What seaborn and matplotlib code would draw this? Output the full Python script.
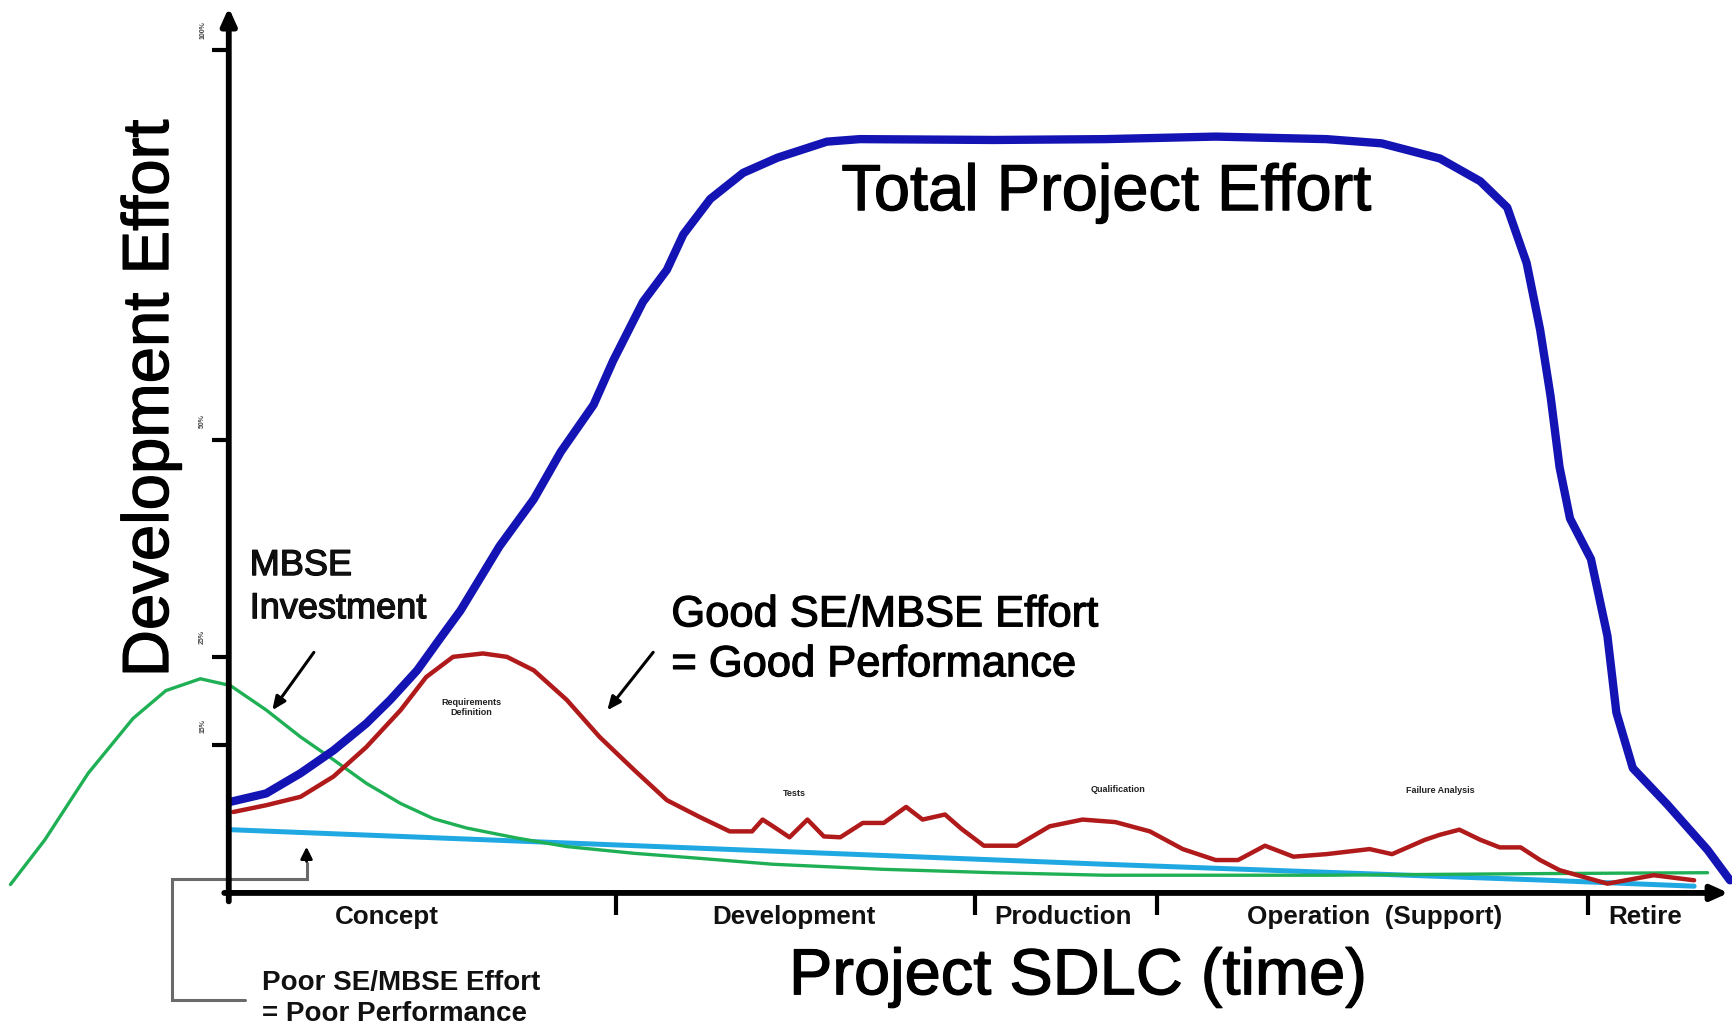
import numpy as np
import pandas as pd
import matplotlib
matplotlib.use("Agg")
import matplotlib.pyplot as plt
import matplotlib.patheffects as pe
import seaborn as sns

# ---------------- data (time %, effort %) ----------------
total_x = [0.1, 2.5, 4.8, 7.0, 9.2, 10.8, 12.6, 14.1, 15.5, 18.1, 20.4, 22.2, 24.4, 25.7,
           27.7, 29.3, 30.4, 32.2, 34.4, 36.7, 40.0, 42.2, 51.2, 58.6, 66.0, 73.4, 77.1,
           81.0, 83.7, 85.5, 86.8, 87.7, 88.4, 89.0, 89.7, 91.1, 92.2, 92.8, 93.9, 96.2,
           98.9, 100.4]
total_y = [10.8, 11.8, 14.2, 16.9, 20.1, 22.9, 26.4, 30.1, 33.5, 41.1, 46.7, 52.3, 57.9, 63.1,
           70.1, 73.9, 78.1, 82.3, 85.4, 87.2, 89.1, 89.4, 89.3, 89.4, 89.7, 89.4, 88.9,
           87.1, 84.4, 81.3, 74.7, 66.8, 58.9, 50.5, 44.4, 39.6, 30.5, 21.4, 14.8, 10.5,
           5.1, 1.5]

good_x = [0.3, 2.5, 4.8, 7.0, 9.2, 11.5, 13.2, 15.0, 17.0, 18.6, 20.4, 22.6, 24.8, 27.1,
          29.3, 31.5, 33.5, 35.0, 35.7, 36.4, 37.5, 38.7, 39.8, 40.9, 42.4, 43.8, 45.3,
          46.4, 47.9, 49.0, 50.5, 52.7, 54.9, 57.1, 59.3, 61.6, 63.8, 66.0, 67.5, 69.3,
          71.2, 73.4, 76.3, 77.8, 80.0, 81.0, 82.3, 83.7, 85.0, 86.4, 87.7, 89.0, 92.2,
          95.3, 98.0]
good_y = [9.6, 10.4, 11.4, 13.8, 17.3, 21.7, 25.6, 28.0, 28.4, 28.0, 26.4, 22.9, 18.5, 14.6,
          11.0, 9.0, 7.3, 7.3, 8.7, 7.9, 6.6, 8.7, 6.7, 6.6, 8.3, 8.3, 10.2,
          8.7, 9.3, 7.6, 5.6, 5.6, 7.9, 8.7, 8.4, 7.3, 5.2, 3.9, 3.9, 5.6,
          4.3, 4.6, 5.2, 4.6, 6.3, 6.9, 7.5, 6.3, 5.4, 5.4, 3.9, 2.7, 1.1,
          2.1, 1.5]

poor_x = [-14.6, -12.3, -9.4, -6.4, -4.2, -1.9, 0.1, 2.5, 4.8, 7.0, 9.2, 11.5, 13.7, 15.9,
          19.3, 22.6, 27.1, 31.5, 36.4, 43.8, 51.2, 58.6, 73.4, 88.2, 98.9]
poor_y = [1.0, 6.3, 14.2, 20.7, 24.0, 25.4, 24.6, 21.7, 18.5, 15.8, 13.0, 10.6, 8.8, 7.7,
          6.5, 5.5, 4.7, 4.1, 3.4, 2.8, 2.4, 2.1, 2.1, 2.3, 2.4]

base_x = [0.1, 31.5, 58.6, 88.2, 98.0]
base_y = [7.5, 5.3, 3.4, 1.5, 0.8]

phases = ["Concept", "Development", "Production", "Operation  (Support)", "Retire"]
phase_centers = [10.6, 37.8, 55.8, 76.6, 94.7]
phase_bounds = [25.9, 49.9, 62.1, 90.9]

ytick_vals = [100, 53.7, 28.0, 17.5]
ytick_labels = ["100%", "50%", "25%", "15%"]

milestones = ["Requirements\nDefinition", "Tests", "Qualification", "Failure Analysis"]
milestone_x = [16.2, 37.8, 59.5, 81.0]
milestone_y = [22.0, 11.8, 12.3, 12.1]

# ---------------- style ----------------
sns.set_style("white")
plt.rcParams['font.family'] = ['Liberation Sans', 'DejaVu Sans']

fig = plt.figure(figsize=(17.33, 10.27), dpi=100)
ax = fig.add_axes([0, 0, 1, 1])
ax.set_xlim(-15.3, 100.6)
ax.set_ylim(-15.9, 105.9)
ax.axis("off")

heavy = [pe.withStroke(linewidth=0.9, foreground="black")]

# curves
sns.lineplot(x=base_x, y=base_y, color="#20a8e2", lw=3.6, ax=ax, sort=False, estimator=None, zorder=2)
sns.lineplot(x=poor_x, y=poor_y, color="#1fb055", lw=2.4, ax=ax, sort=False, estimator=None, zorder=3)
sns.lineplot(x=good_x, y=good_y, color="#b01a1a", lw=3.2, ax=ax, sort=False, estimator=None, zorder=4)
sns.lineplot(x=total_x, y=total_y, color="#1414b4", lw=6.0, ax=ax, sort=False, estimator=None, zorder=5)

# gray bracket (Poor SE) drawn behind axes
ax.plot([1.1, -3.8, -3.8, 5.2, 5.2], [-12.7, -12.7, 1.7, 1.7, 3.6], color="#6a6a6a", lw=2.2, zorder=1,
        solid_joinstyle="miter")
ax.annotate("", xy=(5.2, 5.8), xytext=(5.2, 3.4),
            arrowprops=dict(arrowstyle="-|>,head_length=0.7,head_width=0.35", color="black", lw=2), zorder=6)

# axes with arrows
ax.annotate("", xy=(0, 105.0), xytext=(0, -1.0),
            arrowprops=dict(arrowstyle="-|>,head_length=1.0,head_width=0.45", color="black", lw=4.2,
                            shrinkA=0, shrinkB=0), zorder=8)
ax.annotate("", xy=(100.3, 0), xytext=(-0.3, 0),
            arrowprops=dict(arrowstyle="-|>,head_length=1.0,head_width=0.45", color="black", lw=4.2,
                            shrinkA=0, shrinkB=0), zorder=8)

for b in phase_bounds:
    ax.plot([b, b], [0, -2.6], color="black", lw=3, solid_capstyle="butt", zorder=8)
for c, name in zip(phase_centers, phases):
    ax.text(c, -2.8, name, ha="center", va="center", fontsize=18.7, fontweight="bold",
            color="#111111")

for v, lab in zip(ytick_vals, ytick_labels):
    ax.plot([0, -1.1], [v, v], color="black", lw=3, solid_capstyle="butt", zorder=8)
    ax.text(-1.75, v + 2.3, lab, rotation=90, ha="center", va="center", fontsize=5,
            fontweight="bold", color="#444444")

# axis titles
ax.text(56.8, -10.0, "Project SDLC (time)", ha="center", va="center", fontsize=46.8, color="black",
        path_effects=heavy)
ax.text(-5.2, 58.6, "Development Effort", ha="center", va="center", rotation=90, fontsize=47,
        color="black", path_effects=heavy)

# annotations
ax.text(58.7, 83.0, "Total Project Effort", ha="center", va="center", fontsize=46.8, color="black",
        path_effects=heavy)
ax.text(29.6, 35.3, "Good SE/MBSE Effort\n= Good Performance", ha="left", va="top", fontsize=31.3,
        color="black", linespacing=1.32, path_effects=heavy)
ax.text(1.4, 40.9, "MBSE\nInvestment", ha="left", va="top", fontsize=26, color="#111111",
        linespacing=1.3, path_effects=heavy)
ax.text(2.2, -9.1, "Poor SE/MBSE Effort\n= Poor Performance", ha="left", va="top", fontsize=20,
        fontweight="bold", color="#111111", linespacing=1.25)

ax.annotate("", xy=(2.8, 21.4), xytext=(5.8, 28.8),
            arrowprops=dict(arrowstyle="-|>,head_length=0.8,head_width=0.35", color="black", lw=2.2))
ax.annotate("", xy=(25.2, 21.4), xytext=(28.5, 28.8),
            arrowprops=dict(arrowstyle="-|>,head_length=0.8,head_width=0.35", color="black", lw=2.2))

for mx, my, m in zip(milestone_x, milestone_y, milestones):
    ax.text(mx, my, m, ha="center", va="center", fontsize=6.5, fontweight="bold", color="#222222",
            linespacing=1.1)

fig.savefig("out.png", dpi=100)
